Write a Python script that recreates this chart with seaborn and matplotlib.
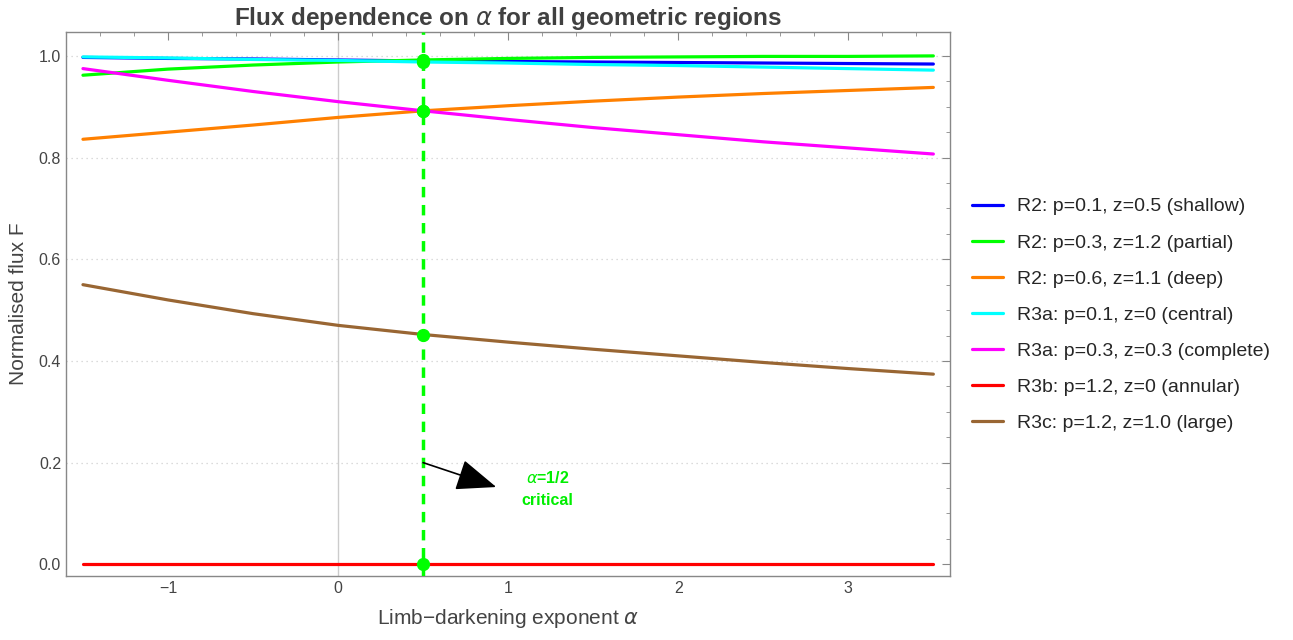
import numpy as np
import pandas as pd
import matplotlib
matplotlib.use("Agg")
import matplotlib.pyplot as plt
import seaborn as sns
from matplotlib.ticker import MultipleLocator

# alpha grid and flux values
alpha = [-1.5, -1.0, -0.5, 0.0, 0.5, 1.0, 1.5, 2.0, 2.5, 3.0, 3.5]

labels = [
    "R2: p=0.1, z=0.5 (shallow)",
    "R2: p=0.3, z=1.2 (partial)",
    "R2: p=0.6, z=1.1 (deep)",
    "R3a: p=0.1, z=0 (central)",
    "R3a: p=0.3, z=0.3 (complete)",
    "R3b: p=1.2, z=0 (annular)",
    "R3c: p=1.2, z=1.0 (large)",
]
colors = ["#0000ff", "#00ff00", "#ff8000", "#00ffff", "#ff00ff", "#ff0000", "#996633"]

flux_shallow = [0.997, 0.995, 0.994, 0.992, 0.990, 0.989, 0.988, 0.987, 0.986, 0.985, 0.984]
flux_partial = [0.962, 0.974, 0.982, 0.988, 0.992, 0.995, 0.997, 0.998, 0.999, 0.999, 1.000]
flux_deep = [0.836, 0.850, 0.864, 0.879, 0.892, 0.902, 0.911, 0.919, 0.926, 0.932, 0.938]
flux_central = [0.998, 0.996, 0.993, 0.991, 0.988, 0.986, 0.983, 0.981, 0.978, 0.975, 0.972]
flux_complete = [0.975, 0.952, 0.930, 0.910, 0.892, 0.875, 0.859, 0.845, 0.831, 0.819, 0.807]
flux_annular = [0.0, 0.0, 0.0, 0.0, 0.0, 0.0, 0.0, 0.0, 0.0, 0.0, 0.0]
flux_large = [0.550, 0.520, 0.493, 0.470, 0.452, 0.437, 0.423, 0.410, 0.397, 0.385, 0.374]

series = [flux_shallow, flux_partial, flux_deep, flux_central,
          flux_complete, flux_annular, flux_large]

alpha_crit = 0.5

rows = []
for lab, vals in zip(labels, series):
    for a, f in zip(alpha, vals):
        rows.append({"alpha": a, "flux": f, "region": lab})
df = pd.DataFrame(rows)

sns.set_style("white")
plt.rcParams["font.family"] = ["Liberation Sans", "DejaVu Sans"]
plt.rcParams["mathtext.fontset"] = "dejavusans"

fig = plt.figure(figsize=(12.93, 6.4), dpi=100)
ax = fig.add_axes([0.051, 0.1, 0.684, 0.85])

# light reference line at alpha = 0 and dotted grid
ax.axvline(0, color="#cccccc", lw=1.0, zorder=0)
for g in [0.2, 0.4, 0.6, 0.8, 1.0]:
    ax.axhline(g, color="#d0d0d0", lw=0.9, ls=(0, (1, 3)), zorder=0)

sns.lineplot(data=df, x="alpha", y="flux", hue="region", hue_order=labels,
             palette=colors, linewidth=2.3, ax=ax, legend=True, zorder=3)

# critical alpha marker line and dots
ax.axvline(alpha_crit, color="#00ff00", lw=2.5, ls=(0, (3, 2.2)), zorder=4)
crit_idx = alpha.index(alpha_crit)
crit_vals = [s[crit_idx] for s in series]
ax.plot([alpha_crit] * len(crit_vals), crit_vals, "o", color="#00ff00",
        markersize=8.5, zorder=5)

ax.annotate("", xy=(0.93, 0.152), xytext=(alpha_crit, 0.2),
            arrowprops=dict(arrowstyle="-|>,head_length=1.4,head_width=0.55",
                            mutation_scale=18, color="black", lw=1.2,
                            shrinkA=0, shrinkB=0), zorder=6)
ax.text(1.23, 0.148, "$\\alpha$=1/2\ncritical", color="#00ee00", fontsize=11.5,
        fontweight="bold", ha="center", va="center", linespacing=1.6)

ax.set_xlim(-1.6, 3.6)
ax.set_ylim(-0.023, 1.047)
ax.xaxis.set_major_locator(MultipleLocator(1))
ax.xaxis.set_minor_locator(MultipleLocator(0.2))
ax.yaxis.set_major_locator(MultipleLocator(0.2))
ax.yaxis.set_minor_locator(MultipleLocator(0.05))
ax.xaxis.set_major_formatter(plt.FuncFormatter(lambda v, p: f"{v:.0f}".replace("-", "\u2212")))
ax.yaxis.set_major_formatter(plt.FuncFormatter(lambda v, p: f"{v:.1f}"))
ax.tick_params(which="both", direction="in", top=True, right=True,
               color="#888888", labelcolor="#444444", labelsize=11.5)
ax.tick_params(which="major", length=6, width=0.8)
ax.tick_params(which="minor", length=3, width=0.6)
for sp in ax.spines.values():
    sp.set_color("#888888")
    sp.set_linewidth(1.0)

ax.set_xlabel("Limb\u2212darkening exponent $\\alpha$", fontsize=15, color="#444444", labelpad=8)
ax.set_ylabel("Normalised flux F", fontsize=15, color="#444444", labelpad=8)
ax.set_title("Flux dependence on $\\alpha$ for all geometric regions", fontsize=17.5,
             fontweight="bold", color="#404040", pad=5)

leg = ax.legend(loc="center left", bbox_to_anchor=(1.005, 0.48), frameon=False,
                fontsize=14, handlelength=1.6, handletextpad=0.7, labelspacing=0.95)
for h in leg.get_lines():
    h.set_linewidth(2.3)

fig.savefig("out.png", dpi=100)
